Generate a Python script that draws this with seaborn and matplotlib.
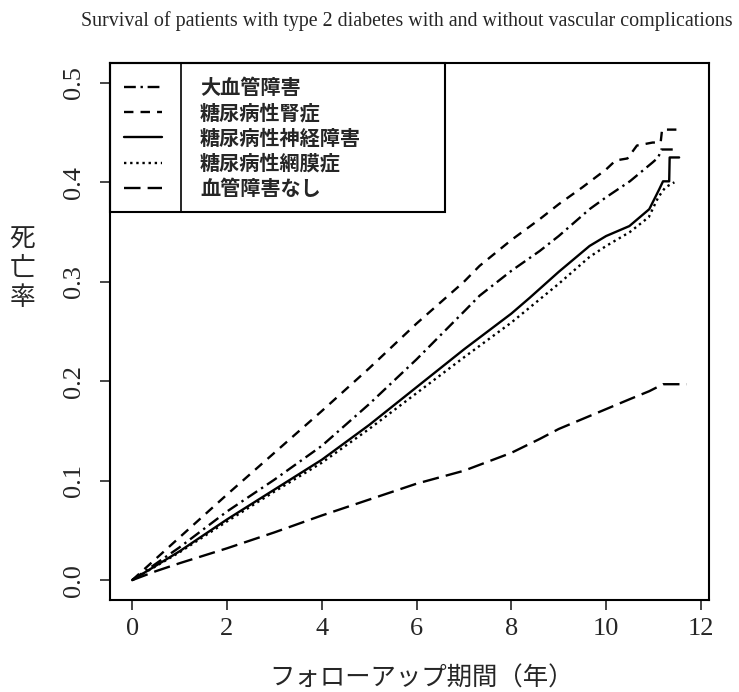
import matplotlib
matplotlib.use("Agg")
import matplotlib.pyplot as plt
import pandas as pd
import seaborn as sns
from matplotlib.patches import Rectangle

# cumulative mortality by follow-up year
LABELS = ["大血管障害", "糖尿病性腎症", "糖尿病性神経障害", "糖尿病性網膜症", "血管障害なし"]

t_macro = [0, 1, 2, 3, 4, 5, 6, 7, 7.33, 8, 8.6, 9, 9.65, 10, 10.5, 10.98, 11.1, 11.16, 11.5]
y_macro = [0, 0.033, 0.069, 0.101, 0.135, 0.177, 0.222, 0.270, 0.286, 0.311, 0.331, 0.346, 0.373,
           0.385, 0.401, 0.420, 0.425, 0.433, 0.433]

t_nephro = [0, 1, 2, 3, 4, 5, 6, 7, 7.33, 8, 8.6, 9, 9.5, 10, 10.2, 10.45, 10.65, 10.98, 11.15,
            11.18, 11.5]
y_nephro = [0, 0.043, 0.086, 0.128, 0.170, 0.213, 0.258, 0.300, 0.316, 0.342, 0.363, 0.378, 0.395,
            0.413, 0.422, 0.424, 0.437, 0.440, 0.440, 0.453, 0.453]

t_neuro = [0, 1, 2, 3, 4, 5, 6, 7, 8, 8.39, 9, 9.65, 10, 10.49, 10.91, 11.12, 11.2, 11.33, 11.34,
           11.54]
y_neuro = [0, 0.029, 0.061, 0.091, 0.121, 0.156, 0.194, 0.232, 0.268, 0.284, 0.310, 0.336, 0.346,
           0.356, 0.373, 0.393, 0.401, 0.401, 0.425, 0.425]

t_retino = [0, 1, 2, 3, 4, 5, 6, 7, 8, 9, 9.65, 10, 10.5, 10.9, 11.1, 11.25, 11.44]
y_retino = [0, 0.028, 0.059, 0.089, 0.118, 0.152, 0.188, 0.224, 0.259, 0.298, 0.325, 0.336, 0.350,
            0.365, 0.385, 0.395, 0.400]

t_none = [0, 0.5, 1, 2, 3, 4, 5, 6, 7, 8, 8.6, 9, 10, 10.5, 10.91, 11.2, 11.7]
y_none = [0, 0.009, 0.017, 0.032, 0.048, 0.065, 0.081, 0.097, 0.110, 0.128, 0.142, 0.152, 0.172,
          0.182, 0.190, 0.197, 0.197]

SERIES = [(t_macro, y_macro), (t_nephro, y_nephro), (t_neuro, y_neuro),
          (t_retino, y_retino), (t_none, y_none)]
DASHES = [(0, (5, 2, 1, 2)), (0, (4, 3)), "-", (0, (1, 1.6)), (0, (7, 3))]

sns.set_style("white")
plt.rcParams["font.family"] = ["Liberation Serif", "Noto Sans CJK JP"]

fig = plt.figure(figsize=(7.39, 6.92), dpi=100)
ax = fig.add_axes([0.1488, 0.1329, 0.8106, 0.7761])

for label, (t, y), ls in zip(LABELS, SERIES, DASHES):
    df = pd.DataFrame({"t": t, "y": y})
    sns.lineplot(data=df, x="t", y="y", color="black", lw=1.7, linestyle=ls,
                 estimator=None, sort=False, ax=ax, label=label)

ax.set_xlim(-0.468, 12.17)
ax.set_ylim(-0.02, 0.52)
ax.set_xticks([0, 2, 4, 6, 8, 10, 12])
ax.set_yticks([0.0, 0.1, 0.2, 0.3, 0.4, 0.5])
ax.set_xticklabels(["0", "2", "4", "6", "8", "10", "12"])
ax.set_yticklabels(["0.0", "0.1", "0.2", "0.3", "0.4", "0.5"], rotation=90, va="center")
ax.tick_params(direction="out", length=7, width=1.2, labelsize=19, pad=6,
               bottom=True, left=True)
ax.tick_params(axis="y", pad=11)
for s in ax.spines.values():
    s.set_color("black")
    s.set_linewidth(1.5)
ax.set_xlabel("")
ax.set_ylabel("")

leg = ax.legend(loc="upper left", bbox_to_anchor=(0.0, 1.0), borderaxespad=0,
                frameon=False, handlelength=1.85, handletextpad=1.9, borderpad=0.72,
                labelspacing=0.2,
                prop={"family": "Noto Sans CJK JP", "weight": "bold", "size": 14.5})
ax.add_patch(Rectangle((0, 0.723), 0.559, 0.277, transform=ax.transAxes, fill=False,
                       edgecolor="black", lw=1.5, zorder=5, clip_on=False))
ax.plot([0.1185, 0.1185], [0.723, 1.0], transform=ax.transAxes, color="black", lw=1.2)

fig.text(0.551, 0.970, "Survival of patients with type 2 diabetes with and without vascular complications",
         ha="center", va="center", fontsize=14.4, family="Liberation Serif")
fig.text(0.570, 0.019, "フォローアップ期間（年）", ha="center", va="center", fontsize=18.3,
         family="Noto Sans CJK JP")
fig.text(0.030, 0.611, "死\n亡\n率", ha="center", va="center", fontsize=18.5,
         family="Noto Sans CJK JP", linespacing=1.15)

fig.savefig("out.png", dpi=100)
